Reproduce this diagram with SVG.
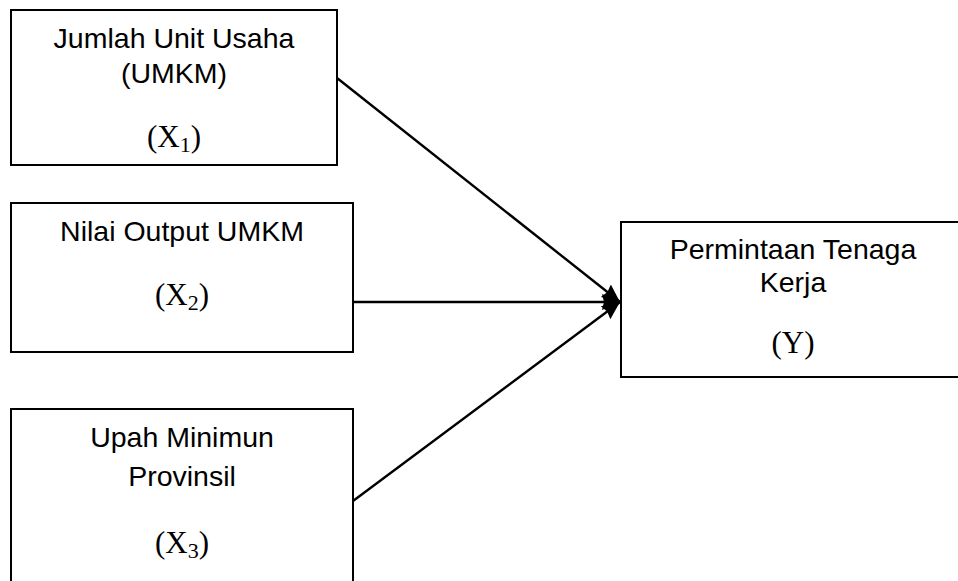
<svg xmlns="http://www.w3.org/2000/svg" width="958" height="581" viewBox="0 0 958 581">
<style>
.box{fill:#fff;stroke:#000;stroke-width:2}
.t{font-family:"Liberation Sans",Arial,sans-serif;font-size:28.5px;fill:#000;text-anchor:middle}
.m{font-family:"Liberation Serif","Times New Roman",serif;font-size:31px;fill:#000;text-anchor:middle}
.sub{font-size:22px}
.c{fill:none;stroke:#000;stroke-width:2.4}
</style>
<defs>
<marker id="ah" markerUnits="userSpaceOnUse" markerWidth="20" markerHeight="22" refX="18" refY="11" orient="auto">
<path d="M0,3 L18,11 L0,19 L2,11 Z" fill="#000"/>
</marker>
</defs>
<rect width="958" height="581" fill="#fff"/>
<g id="node-x1">
<rect class="box" x="11" y="10" width="326" height="155"/>
<text class="t" x="174" y="48">Jumlah Unit Usaha</text>
<text class="t" x="174" y="83">(UMKM)</text>
<text class="m" x="174" y="147">(X<tspan class="sub" dy="5">1</tspan><tspan dy="-5">)</tspan></text>
</g>
<g id="node-x2">
<rect class="box" x="11" y="203" width="342" height="149"/>
<text class="t" x="182" y="241">Nilai Output UMKM</text>
<text class="m" x="182" y="305">(X<tspan class="sub" dy="5">2</tspan><tspan dy="-5">)</tspan></text>
</g>
<g id="node-x3">
<rect class="box" x="11" y="409" width="342" height="200"/>
<text class="t" x="182" y="447">Upah Minimun</text>
<text class="t" x="182" y="486">Provinsil</text>
<text class="m" x="182" y="553">(X<tspan class="sub" dy="5">3</tspan><tspan dy="-5">)</tspan></text>
</g>
<g id="node-y">
<rect class="box" x="621" y="222" width="345" height="155"/>
<text class="t" x="793" y="259">Permintaan Tenaga</text>
<text class="t" x="793" y="292">Kerja</text>
<text class="m" x="793" y="353">(Y)</text>
</g>
<g id="connectors">
<line class="c" x1="337" y1="78" x2="620" y2="302" marker-end="url(#ah)"/>
<line class="c" x1="353" y1="302" x2="620" y2="302" marker-end="url(#ah)"/>
<line class="c" x1="353" y1="501" x2="620" y2="302" marker-end="url(#ah)"/>
</g>
</svg>
